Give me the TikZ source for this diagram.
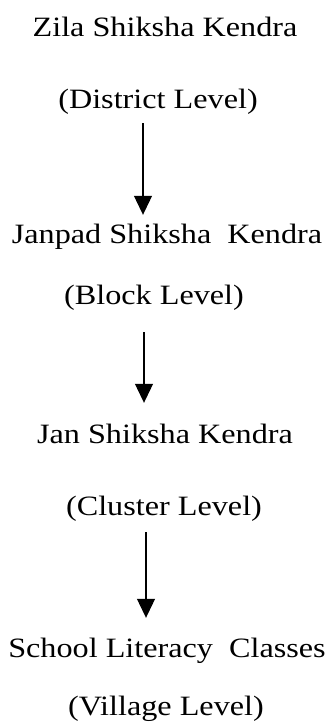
\documentclass[tikz,border=0pt]{standalone}
\usepackage{fontspec}
\setmainfont{Liberation Serif}
\usetikzlibrary{arrows.meta}
\newcommand{\wtxt}[1]{\scalebox{1.15}[1]{#1}}
\tikzset{
  lbl/.style={font=\fontsize{28}{32}\selectfont, inner sep=0pt, anchor=base,
              text height=19.5pt, text depth=6.5pt},
  arr/.style={line width=1.1pt, -{Triangle[width=18pt,length=19pt]}}
}
\begin{document}
\begin{tikzpicture}[x=1pt,y=1pt]
\useasboundingbox (0,0) rectangle (329,-725);
\node[lbl] (n1) at (165,-37)  {\wtxt{Zila Shiksha Kendra}};
\node[lbl] (d1) at (158,-108) {\wtxt{(District Level)}};
\node[lbl] (n2) at (167,-243) {\wtxt{Janpad Shiksha\ \ Kendra}};
\node[lbl] (d2) at (154,-304) {\wtxt{(Block Level)}};
\node[lbl] (n3) at (165,-443) {\wtxt{Jan Shiksha Kendra}};
\node[lbl] (d3) at (164,-515) {\wtxt{(Cluster Level)}};
\node[lbl] (n4) at (167,-657) {\wtxt{School Literacy\ \ Classes}};
\node[lbl] (d4) at (166,-715) {\wtxt{(Village Level)}};
\coordinate (x1) at (143,0);
\coordinate (x2) at (144,0);
\coordinate (x3) at (146,0);
\draw[arr, shorten <=8.5pt, shorten >=8.5pt] (d1.south -| x1) -- (n2.north -| x1);
\draw[arr, shorten <=21.5pt, shorten >=20.5pt] (d2.south -| x2) -- (n3.north -| x2);
\draw[arr, shorten <=10.5pt, shorten >=19.5pt] (d3.south -| x3) -- (n4.north -| x3);
\end{tikzpicture}
\end{document}
